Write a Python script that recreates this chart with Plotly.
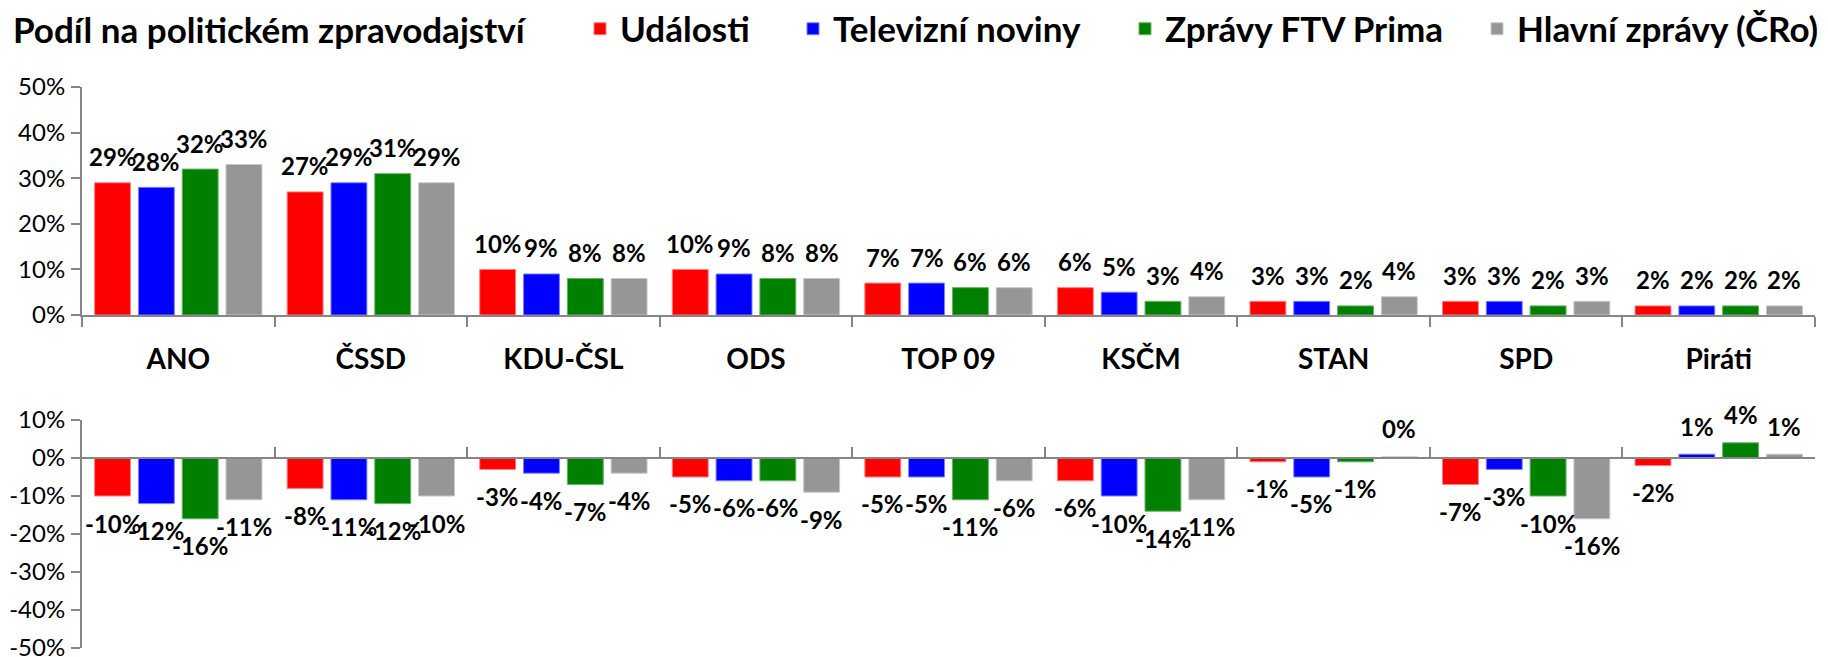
import plotly.graph_objects as go

categories = ["ANO", "ČSSD", "KDU-ČSL", "ODS", "TOP 09", "KSČM", "STAN", "SPD", "Piráti"]
series_names = ["Události", "Televizní noviny", "Zprávy FTV Prima", "Hlavní zprávy (ČRo)"]
colors = ["#FF0000", "#0000FF", "#008000", "#969696"]
edge_colors = ["#FF8080", "#8080FF", "#66B366", "#C8C8C8"]

share_udalosti = [29, 27, 10, 10, 7, 6, 3, 3, 2]
share_televizni = [28, 29, 9, 9, 7, 5, 3, 3, 2]
share_prima = [32, 31, 8, 8, 6, 3, 2, 2, 2]
share_cro = [33, 29, 8, 8, 6, 4, 4, 3, 2]

diff_udalosti = [-10, -8, -3, -5, -5, -6, -1, -7, -2]
diff_televizni = [-12, -11, -4, -6, -5, -10, -5, -3, 1]
diff_prima = [-16, -12, -7, -6, -11, -14, -1, -10, 4]
diff_cro = [-11, -10, -4, -9, -6, -11, 0.3, -16, 1]

top_ticks = [0, 10, 20, 30, 40, 50]
bottom_ticks = [-50, -40, -30, -20, -10, 0, 10]

share = [share_udalosti, share_televizni, share_prima, share_cro]
diff = [diff_udalosti, diff_televizni, diff_prima, diff_cro]

# page body has an 8px margin: work in screen pixels and convert
OFF = 8
SW, SH = 1828, 657
W, H = SW - OFF, SH - OFF
P_LEFT, P_RIGHT = 82, 1815          # screen x of plot area
P_TOP, P_BOTTOM = 87, 648           # screen y of plot area
TOP_ZERO, BOT_TOP, BOT_ZERO = 315, 420, 458

ML = P_LEFT - OFF
MR = SW - P_RIGHT
MT = P_TOP - OFF
MB = SH - P_BOTTOM
plot_h = P_BOTTOM - P_TOP
top_dom = [(P_BOTTOM - TOP_ZERO) / plot_h, 1.0]
bot_dom = [0.0, (P_BOTTOM - BOT_TOP) / plot_h]
zero_pos = (P_BOTTOM - BOT_ZERO) / plot_h

BARGAP = 0.09
GROUPGAP = 0.18
FONT = "Lato"
AX = "#868686"

legend_ids = ["legend", "legend2", "legend3", "legend4"]
legend_text_x = [622, 835, 1167, 1519]   # screen x where each legend text starts
LEGEND_Y = 29

fig = go.Figure()
for j in range(4):
    fig.add_trace(go.Bar(
        x=categories, y=share[j], name=series_names[j],
        marker=dict(color=colors[j], line=dict(color=edge_colors[j], width=1)),
        xaxis="x", yaxis="y", legendgroup=series_names[j], showlegend=True,
        legend=legend_ids[j],
    ))
for j in range(4):
    fig.add_trace(go.Bar(
        x=categories, y=diff[j], name=series_names[j],
        marker=dict(color=colors[j], line=dict(color=edge_colors[j], width=1)),
        xaxis="x2", yaxis="y2", legendgroup=series_names[j], showlegend=False,
    ))

annotations = []
slot = (1 - BARGAP) / 4
label_font = dict(family=FONT, size=24, color="black", weight="bold")
for j in range(4):
    for i in range(len(categories)):
        xpos = i + (j - 1.5) * slot
        v = share[j][i]
        annotations.append(dict(
            x=xpos, y=v, xref="x", yref="y", text=f"{round(v)}%", showarrow=False,
            yanchor="middle", xanchor="center", yshift=26, font=label_font,
        ))
        d = diff[j][i]
        annotations.append(dict(
            x=xpos, y=d, xref="x2", yref="y2", text=f"{round(d)}%", showarrow=False,
            yanchor="middle", xanchor="center", yshift=(28 if d >= 0 else -27),
            font=label_font,
        ))

legend_layout = {}
for j, lid in enumerate(legend_ids):
    legend_layout[lid] = dict(
        orientation="h", xref="container", yref="container",
        x=(legend_text_x[j] - 42 - OFF) / W, xanchor="left",
        y=1 - (LEGEND_Y - OFF) / H, yanchor="middle",
        font=dict(family=FONT, size=35, color="black", weight="bold"),
        bgcolor="rgba(0,0,0,0)",
    )

tick_font = dict(family=FONT, size=24, color="black")

fig.update_layout(
    width=W, height=H,
    margin=dict(l=ML, r=MR, t=MT, b=MB, autoexpand=False),
    paper_bgcolor="white", plot_bgcolor="white",
    barmode="group", bargap=BARGAP, bargroupgap=GROUPGAP,
    font=dict(family=FONT, color="black"),
    title=dict(
        text="<b>Podíl na politickém zpravodajství</b>",
        x=(13 - OFF) / W, xref="container", xanchor="left",
        y=1 - (31 - OFF) / H, yref="container", yanchor="middle",
        font=dict(family=FONT, size=35, color="black"),
    ),
    xaxis=dict(
        domain=[0, 1], anchor="y", type="category", showline=True, linecolor=AX, linewidth=2,
        ticks="outside", tickson="boundaries", ticklen=10, tickcolor=AX, tickwidth=2,
        tickfont=dict(family=FONT, size=28, color="black", weight="bold"),
        ticklabelstandoff=18, showgrid=False, range=[-0.5, 8.5],
    ),
    yaxis=dict(
        domain=top_dom, anchor="x", range=[0, 50], tickmode="array", tickvals=top_ticks,
        ticktext=[f"{t}%" for t in top_ticks],
        showline=True, linecolor=AX, linewidth=2, ticks="outside", ticklen=9,
        tickcolor=AX, tickwidth=2, showgrid=False, zeroline=False, ticklabelstandoff=1,
        tickfont=tick_font, ticklabeloverflow="allow",
    ),
    xaxis2=dict(
        domain=[0, 1], anchor="free", position=zero_pos, type="category",
        showline=True, linecolor=AX, linewidth=2, ticks="inside", tickson="boundaries",
        ticklen=10, tickcolor=AX, tickwidth=2, showticklabels=False, showgrid=False,
        range=[-0.5, 8.5], matches="x",
    ),
    yaxis2=dict(
        domain=bot_dom, anchor="x2", range=[-50, 10], tickmode="array", tickvals=bottom_ticks,
        ticktext=[f"{t}%" for t in bottom_ticks],
        showline=True, linecolor=AX, linewidth=2, ticks="outside", ticklen=9,
        tickcolor=AX, tickwidth=2, showgrid=False, zeroline=False, ticklabelstandoff=1,
        tickfont=tick_font, ticklabeloverflow="allow",
    ),
    annotations=annotations,
    **legend_layout,
)

fig.write_html("out.html")
